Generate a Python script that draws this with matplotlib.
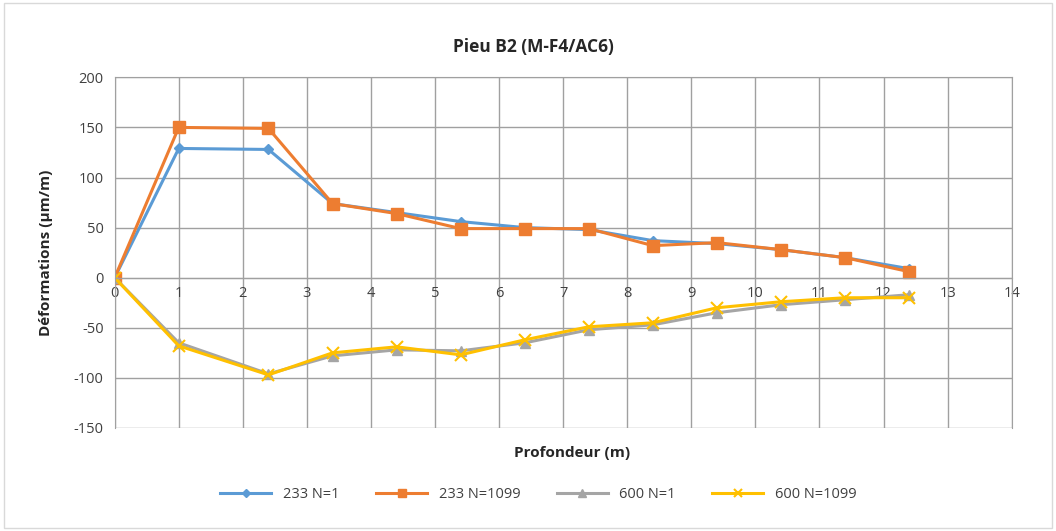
import matplotlib
matplotlib.use("Agg")
import matplotlib.pyplot as plt
from matplotlib.patches import Rectangle

plt.rcParams['font.family'] = ['Open Sans', 'DejaVu Sans']
plt.rcParams['axes.unicode_minus'] = False

depth = [0, 1, 2.4, 3.4, 4.4, 5.4, 6.4, 7.4, 8.4, 9.4, 10.4, 11.4, 12.4]
s233_n1 = [0, 129, 128, 74, 65, 56, 50, 48, 37, 34, 28, 20, 9]
s233_n1099 = [0, 150, 149, 74, 64, 49, 49, 49, 32, 35, 28, 20, 6]
s600_n1 = [0, -65, -96, -78, -72, -73, -65, -52, -47, -35, -27, -22, -17]
s600_n1099 = [0, -68, -97, -75, -69, -77, -62, -49, -45, -30, -24, -20, -20]
labels = ["233 N=1", "233 N=1099", "600 N=1", "600 N=1099"]
xticks = list(range(0, 15))
yticks = list(range(-150, 201, 50))

fig = plt.figure(figsize=(10.56, 5.31), dpi=100)
fig.patches.append(Rectangle((0.004, 0.006), 0.992, 0.988, transform=fig.transFigure,
                             fill=False, edgecolor='#d9d9d9', linewidth=1))
ax = fig.add_axes([0.1086, 0.194, 0.8494, 0.6604])

styles = [
    dict(color='#5B9BD5', marker='D', markersize=5),
    dict(color='#ED7D31', marker='s', markersize=8),
    dict(color='#A5A5A5', marker='^', markersize=7),
    dict(color='#FFC000', marker='x', markersize=8, markeredgewidth=1.5),
]
series = [s233_n1, s233_n1099, s600_n1, s600_n1099]
for ys, lab, st in zip(series, labels, styles):
    ax.plot(depth, ys, linewidth=2.2, label=lab, **st)

ax.set_xlim(0, 14)
ax.set_ylim(-150, 200)
ax.set_xticks(xticks)
ax.set_yticks(yticks)
ax.grid(True, color='#a0a0a0', linewidth=1)
ax.set_axisbelow(True)
for side in ['top', 'right', 'left']:
    ax.spines[side].set_color('#a0a0a0')
ax.spines['bottom'].set_position(('data', 0))
ax.spines['bottom'].set_color('#a0a0a0')
ax.tick_params(axis='both', length=0, labelsize=10.5, labelcolor='#404040')
ax.tick_params(axis='x', pad=6)
ax.tick_params(axis='y', pad=8)

fig.suptitle("Pieu B2 (M-F4/AC6)", x=0.505, y=0.928, fontsize=12.5, fontweight='bold', color='#262626')
ax.set_xlabel("Profondeur (m)", fontsize=11, fontweight='bold', color='#262626')
ax.xaxis.set_label_coords(0.51, -0.05)
ax.set_ylabel("Déformations (µm/m)", fontsize=11, fontweight='bold', color='#262626')
ax.yaxis.set_label_coords(-0.069, 0.50)

fig.legend(loc='center', bbox_to_anchor=(0.51, 0.068), ncol=4, frameon=False,
           fontsize=10.5, handlelength=3.5, columnspacing=2.5, labelcolor='#404040',
           markerscale=0.75)

fig.savefig("out.png", dpi=100)
